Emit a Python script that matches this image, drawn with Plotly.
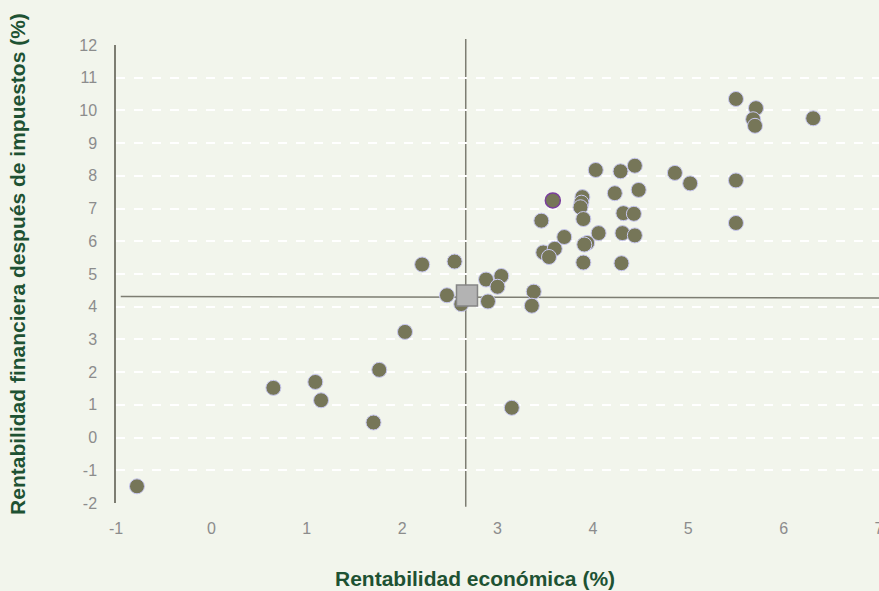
import plotly.graph_objects as go

# Data
rent_economica = [
    -0.78, 0.65, 1.09, 1.15, 1.70, 1.76, 2.03, 2.21, 2.55, 2.47, 2.62, 2.90,
    2.88, 3.04, 3.00, 3.38, 3.36, 3.15, 3.48, 3.60, 3.54, 3.46, 3.89, 3.88,
    3.87, 3.90, 3.70, 3.94, 3.91, 3.90, 4.06, 4.31, 4.44, 4.32, 4.43, 4.23,
    4.48, 4.03, 4.29, 4.44, 4.30, 4.86, 5.02, 5.50, 5.50, 5.50, 5.71, 5.68,
    5.70, 6.31,
]
rent_financiera = [
    -1.49, 1.52, 1.70, 1.14, 0.46, 2.07, 3.23, 5.29, 5.38, 4.35, 4.08, 4.16,
    4.83, 4.94, 4.61, 4.46, 4.03, 0.91, 5.66, 5.77, 5.52, 6.63, 7.35, 7.18,
    7.04, 6.68, 6.13, 5.95, 5.90, 5.35, 6.25, 6.25, 6.18, 6.86, 6.84, 7.47,
    7.57, 8.18, 8.14, 8.31, 5.33, 8.09, 7.77, 7.86, 6.56, 10.35, 10.07, 9.73,
    9.53, 9.76,
]
destacado_x = [3.58]
destacado_y = [7.25]
media_x = [2.68]
media_y = [4.34]
linea_h_x = [-0.95, 7.0]
linea_h_y = [4.31, 4.27]
linea_v_x = 2.667

x_ticks = [-1, 0, 1, 2, 3, 4, 5, 6, 7]
y_ticks = list(range(-2, 13))

BG = "#F2F5EC"
GREEN = "#1E5233"
TICK = "#8C8C8C"

fig = go.Figure()

fig.add_trace(go.Scatter(
    x=linea_h_x, y=linea_h_y, mode="lines",
    line=dict(color="#7D7D72", width=1.5), hoverinfo="skip", showlegend=False,
))
fig.add_shape(type="line", xref="x", yref="paper", x0=linea_v_x, x1=linea_v_x,
              y0=-0.008, y1=1.013, line=dict(color="#7D7D72", width=1.5), layer="between")

fig.add_trace(go.Scatter(
    x=rent_economica, y=rent_financiera, mode="markers",
    marker=dict(size=15, color="#767658", line=dict(color="#C8C8F0", width=1)),
    showlegend=False,
))
fig.add_trace(go.Scatter(
    x=destacado_x, y=destacado_y, mode="markers",
    marker=dict(size=15, color="#767658", line=dict(color="#7A3E9D", width=1.5)),
    showlegend=False,
))
fig.add_trace(go.Scatter(
    x=media_x, y=media_y, mode="markers",
    marker=dict(size=21, symbol="square", color="#B3B3B3", line=dict(color="#858585", width=1.5)),
    showlegend=False,
))

fig.update_layout(
    width=879, height=591,
    paper_bgcolor=BG, plot_bgcolor=BG,
    margin=dict(l=116, r=0, t=45, b=88, autoexpand=False),
    font=dict(family="Liberation Sans, Arial, sans-serif"),
    showlegend=False,
    annotations=[
        dict(text="<b>Rentabilidad económica (%)</b>", xref="paper", yref="paper",
             x=0.4705, y=-0.164, xanchor="center", yanchor="middle", showarrow=False,
             font=dict(size=21, color=GREEN)),
        dict(text="<b>Rentabilidad financiera después de impuestos (%)</b>", xref="paper", yref="paper",
             x=-0.1284, y=0.522, xanchor="center", yanchor="middle", showarrow=False,
             textangle=-90, font=dict(size=21, color=GREEN)),
    ],
)

fig.update_xaxes(
    range=[-1, 7], tickvals=x_ticks, ticktext=[str(v) for v in x_ticks],
    showgrid=False, zeroline=False, showline=False, ticks="",
    tickfont=dict(size=16, color=TICK), ticklabelstandoff=14,
    ticklabeloverflow="allow", automargin=False,
)
fig.update_yaxes(
    range=[-2, 12], tickvals=y_ticks, ticktext=[str(v) for v in y_ticks],
    showgrid=True, gridcolor="#FFFFFF", griddash="dash", gridwidth=1.5,
    zeroline=False, showline=True, linecolor="#7D7D72", linewidth=1.5, ticks="",
    tickfont=dict(size=16, color=TICK), ticklabelstandoff=14, automargin=False,
)

fig.write_html(
    "out.html",
    config={"displayModeBar": False},
    post_script="document.body.style.margin='0';document.body.style.overflow='hidden';",
)
